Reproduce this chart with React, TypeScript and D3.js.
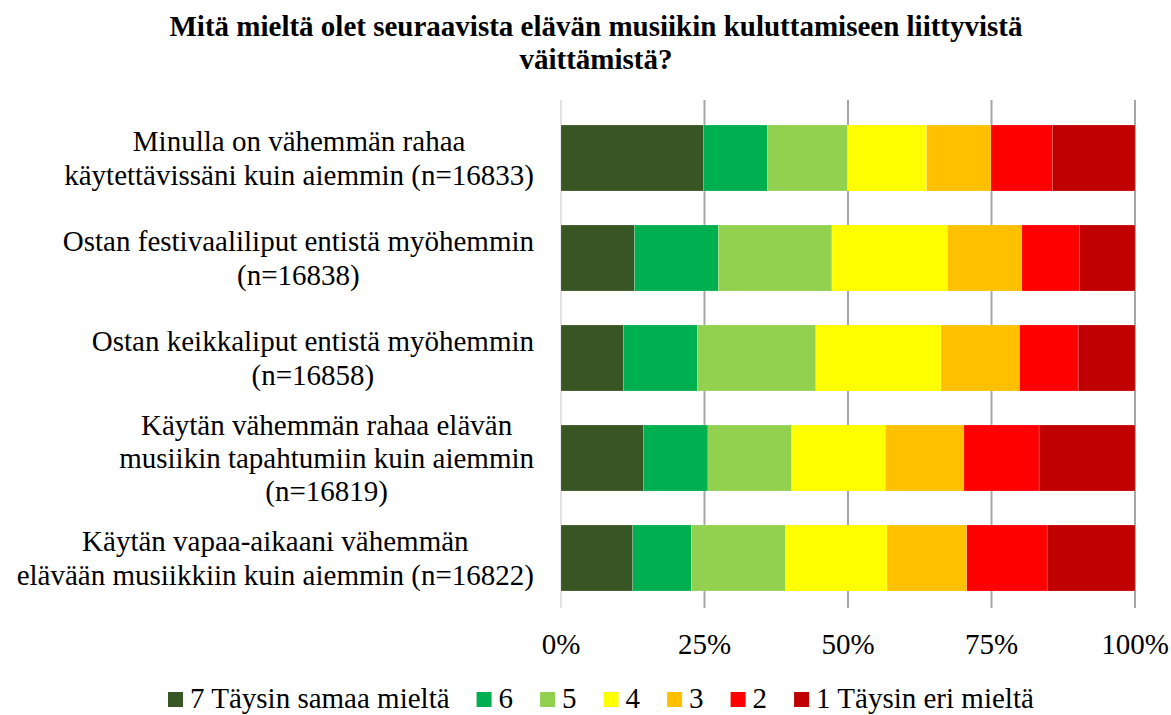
import React, { useEffect, useRef } from 'react'
import * as d3 from 'd3'

const title = ['Mitä mieltä olet seuraavista elävän musiikin kuluttamiseen liittyvistä', 'väittämistä?']

const categories = [
  ['Minulla on vähemmän rahaa', 'käytettävissäni kuin aiemmin (n=16833)'],
  ['Ostan festivaaliliput entistä myöhemmin', '(n=16838)'],
  ['Ostan keikkaliput entistä myöhemmin', '(n=16858)'],
  ['Käytän vähemmän rahaa elävän', 'musiikin tapahtumiin kuin aiemmin', '(n=16819)'],
  ['Käytän vapaa-aikaani vähemmän', 'elävään musiikkiin kuin aiemmin (n=16822)'],
]

const seriesNames = ['7 Täysin samaa mieltä', '6', '5', '4', '3', '2', '1 Täysin eri mieltä']
const seriesColors = ['#375623', '#00B050', '#92D050', '#FFFF00', '#FFC000', '#FF0000', '#C00000']

// percentages per answer, one value per statement
const s7 = [24.8, 12.8, 10.9, 14.4, 12.5]
const s6 = [11.2, 14.6, 12.9, 11.2, 10.2]
const s5 = [13.9, 19.8, 20.6, 14.6, 16.4]
const s4 = [13.8, 20.1, 21.8, 16.3, 17.7]
const s3 = [11.2, 13.0, 13.7, 13.7, 13.9]
const s2 = [10.7, 10.0, 10.2, 13.1, 14.0]
const s1 = [14.4, 9.7, 9.9, 16.7, 15.3]

const tickValues = [0, 0.25, 0.5, 0.75, 1]

export default function App() {
  const ref = useRef<SVGSVGElement>(null)

  useEffect(() => {
    document.body.style.margin = '0'
    const width = 1171
    const height = 715
    const left = 561, right = 1135, top = 108, bottom = 608
    const font = 'Liberation Serif, Times New Roman, serif'
    const fs = 29

    const svg = d3.select(ref.current)
    svg.selectAll('*').remove()

    const all = [s7, s6, s5, s4, s3, s2, s1]
    const rows = categories.map((_, i) => {
      const r: any = { idx: i }
      seriesNames.forEach((n, k) => { r[n] = all[k][i] })
      return r
    })
    const stacked = d3.stack().keys(seriesNames).offset(d3.stackOffsetExpand)(rows)

    const x = d3.scaleLinear().domain([0, 1]).range([left, right])
    const y = d3.scaleBand<number>().domain(d3.range(categories.length)).range([top, bottom]).paddingInner(0.34).paddingOuter(0.17)

    // title
    svg.append('g').selectAll('text').data(title).enter().append('text')
      .attr('x', 596).attr('y', (d, i) => 36 + i * 33)
      .attr('text-anchor', 'middle')
      .attr('font-family', font).attr('font-weight', 'bold').attr('font-size', fs)
      .text(d => d)

    // 0% line
    svg.append('line').attr('x1', x(0)).attr('x2', x(0)).attr('y1', 100).attr('y2', bottom)
      .attr('stroke', '#D9D9D9').attr('stroke-width', 1.5)

    // gridlines
    svg.append('g').selectAll('line').data(tickValues.slice(1)).enter().append('line')
      .attr('x1', d => x(d)).attr('x2', d => x(d)).attr('y1', 100).attr('y2', bottom)
      .attr('stroke', '#A6A6A6').attr('stroke-width', 2)

    // bars
    svg.append('g').selectAll('g').data(stacked).enter().append('g')
      .attr('fill', (d, i) => seriesColors[i])
      .selectAll('rect').data(d => d).enter().append('rect')
      .attr('x', d => x(d[0]))
      .attr('width', d => x(d[1]) - x(d[0]))
      .attr('y', (d: any) => y(d.data.idx) as number)
      .attr('height', y.bandwidth())
      .attr('stroke', 'rgba(255,255,255,0.35)').attr('stroke-width', 0.5)

    // x tick labels
    svg.append('g').selectAll('text').data(tickValues).enter().append('text')
      .attr('x', d => x(d)).attr('y', 654)
      .attr('text-anchor', 'middle')
      .attr('font-family', font).attr('font-size', fs)
      .text(d => d3.format('.0%')(d))

    // category labels: each block centered, longest line ending at x=534
    const lineH = 33.4
    categories.forEach((lines, i) => {
      const g = svg.append('g')
      const cy = (y(i) as number) + y.bandwidth() / 2
      const texts = g.selectAll('text').data(lines).enter().append('text')
        .attr('y', (d, k) => cy + (k - (lines.length - 1) / 2) * lineH + 10)
        .attr('text-anchor', 'middle')
        .attr('font-family', font).attr('font-size', fs)
        .text(d => d)
      let maxW = 0
      texts.each(function () { maxW = Math.max(maxW, (this as SVGTextElement).getComputedTextLength()) })
      texts.attr('x', 534 - maxW / 2)
    })

    // legend
    const lg = svg.append('g').attr('transform', 'translate(168,708)')
    let cx = 0
    seriesNames.forEach((n, i) => {
      const item = lg.append('g').attr('transform', `translate(${cx},0)`)
      item.append('rect').attr('x', 0).attr('y', -16).attr('width', 15).attr('height', 15).attr('fill', seriesColors[i])
      const t = item.append('text').attr('x', 22).attr('y', 0)
        .attr('font-family', font).attr('font-size', fs).text(n)
      cx += 22 + (t.node() as SVGTextElement).getComputedTextLength() + 27
    })

    svg.attr('width', width).attr('height', height)
  }, [])

  return <svg ref={ref} width={1171} height={715} style={{ display: 'block', background: '#fff' }} />
}
